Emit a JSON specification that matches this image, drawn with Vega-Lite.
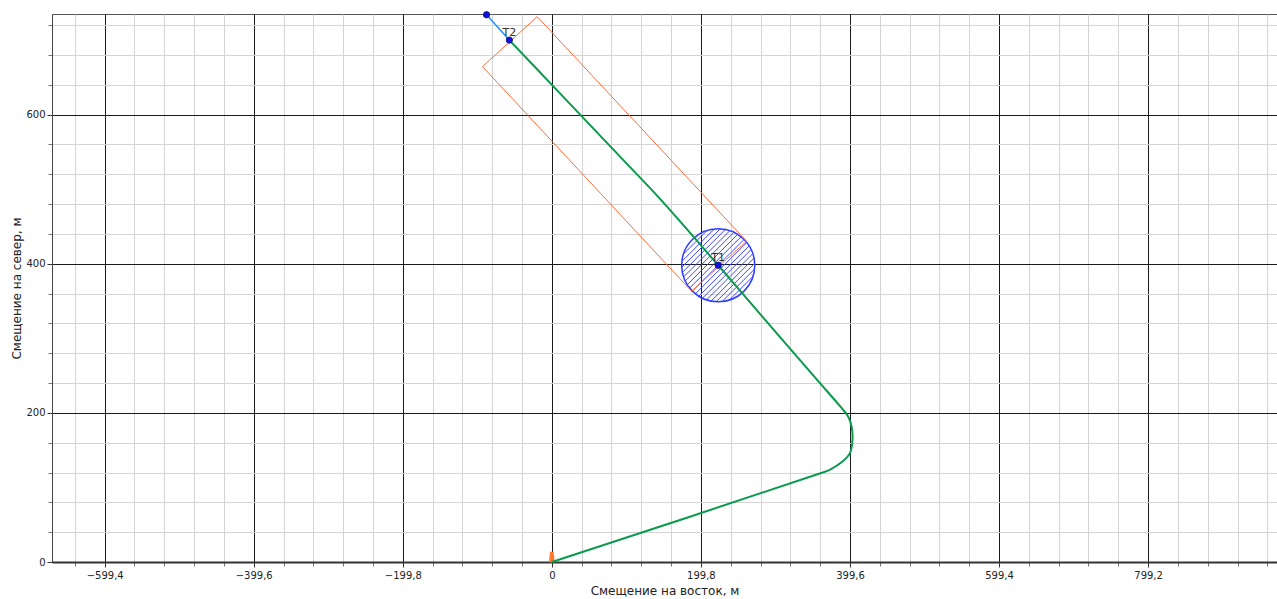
{
  "$schema": "https://vega.github.io/schema/vega-lite/v6.json",
  "width": 1225,
  "height": 548,
  "autosize": {"type": "none"},
  "padding": {"left": 52, "top": 14, "right": 0, "bottom": 37},
  "background": "white",
  "config": {
    "view": {"stroke": "#555555", "strokeWidth": 1},
    "font": "DejaVu Sans"
  },
  "datasets": {
    "track": [
      {"i": 0, "x": 0, "y": 0},
      {"i": 1, "x": 360, "y": 119},
      {"i": 2, "x": 373, "y": 124},
      {"i": 3, "x": 390, "y": 135},
      {"i": 4, "x": 399.5, "y": 146},
      {"i": 5, "x": 403, "y": 164},
      {"i": 6, "x": 401.7, "y": 182},
      {"i": 7, "x": 397, "y": 195.5},
      {"i": 8, "x": 388, "y": 207},
      {"i": 9, "x": 355, "y": 245},
      {"i": 10, "x": 283, "y": 328},
      {"i": 11, "x": 223, "y": 398},
      {"i": 12, "x": 145, "y": 487},
      {"i": 13, "x": 93, "y": 542},
      {"i": 14, "x": 2, "y": 638},
      {"i": 15, "x": -57, "y": 700}
    ],
    "blue": [
      {"i": 0, "x": -87.5, "y": 734},
      {"i": 1, "x": -70, "y": 714.5},
      {"i": 2, "x": -57, "y": 700}
    ],
    "rect": [
      {"i": 0, "x": -19.7, "y": 731.5},
      {"i": 1, "x": 261, "y": 430.3},
      {"i": 2, "x": 187.3, "y": 363.2},
      {"i": 3, "x": -92.9, "y": 664.4},
      {"i": 4, "x": -19.7, "y": 731.5}
    ],
    "hatch": [
      {"x": 188.35, "y": 363.35, "x2": 257.65, "y2": 432.65},
      {"x": 184.72, "y": 367.42, "x2": 253.58, "y2": 436.28},
      {"x": 192.42, "y": 359.72, "x2": 261.28, "y2": 428.58},
      {"x": 181.52, "y": 371.92, "x2": 249.08, "y2": 439.48},
      {"x": 196.92, "y": 356.52, "x2": 264.48, "y2": 424.08},
      {"x": 178.78, "y": 376.88, "x2": 244.12, "y2": 442.22},
      {"x": 201.88, "y": 353.78, "x2": 267.22, "y2": 419.12},
      {"x": 176.56, "y": 382.36, "x2": 238.64, "y2": 444.44},
      {"x": 207.36, "y": 351.56, "x2": 269.44, "y2": 413.64},
      {"x": 174.94, "y": 388.44, "x2": 232.56, "y2": 446.06},
      {"x": 213.44, "y": 349.94, "x2": 271.06, "y2": 407.56},
      {"x": 174.08, "y": 395.28, "x2": 225.72, "y2": 446.92},
      {"x": 220.28, "y": 349.08, "x2": 271.92, "y2": 400.72},
      {"x": 174.27, "y": 403.17, "x2": 217.83, "y2": 446.73},
      {"x": 228.17, "y": 349.27, "x2": 271.73, "y2": 392.83},
      {"x": 176.33, "y": 412.93, "x2": 208.07, "y2": 444.67},
      {"x": 237.93, "y": 351.33, "x2": 269.67, "y2": 383.07}
    ],
    "circle": [{"x": 223, "y": 398}],
    "pts": [
      {"x": -87.5, "y": 734, "name": ""},
      {"x": -57, "y": 700, "name": "Т2"},
      {"x": 223, "y": 398, "name": "Т1"}
    ],
    "origin": [{"x": 0, "y": 0}]
  },
  "resolve": {"axis": {"x": "independent", "y": "independent"}},
  "layer": [
    {
      "data": {"name": "origin"},
      "mark": {"type": "point", "opacity": 0},
      "encoding": {
        "x": {"field": "x", "type": "quantitative",
          "scale": {"domain": [-670, 972], "nice": false, "zero": false},
          "axis": {"orient": "bottom", "values": [-639.36, -559.44, -519.48, -479.52, -439.56, -359.64, -319.68, -279.72, -239.76, -159.84, -119.88, -79.92, -39.96, 39.96, 79.92, 119.88, 159.84, 239.76, 279.72, 319.68, 359.64, 439.56, 479.52, 519.48, 559.44, 639.36, 679.32, 719.28, 759.24, 839.16, 879.12, 919.08, 959.04],
            "grid": true, "gridColor": "#d4d4d4", "gridWidth": 1, "labels": false, "domain": false, "ticks": true, "tickSize": 4, "tickColor": "#777777", "title": null}},
        "y": {"field": "y", "type": "quantitative",
          "scale": {"domain": [0, 735], "nice": false, "zero": false},
          "axis": {"orient": "left", "values": [40, 80, 120, 160, 240, 280, 320, 360, 440, 480, 520, 560, 640, 680, 720],
            "grid": true, "gridColor": "#d4d4d4", "gridWidth": 1, "labels": false, "domain": false, "ticks": true, "tickSize": 4, "tickColor": "#777777", "title": null}}
      }
    },
    {
      "data": {"name": "origin"},
      "mark": {"type": "point", "opacity": 0},
      "encoding": {
        "x": {"field": "x", "type": "quantitative",
          "axis": {"orient": "bottom", "values": [-599.4, -399.6, -199.8, 0, 199.8, 399.6, 599.4, 799.2],
            "labelExpr": "datum.value == 0 ? '0' : replace(format(datum.value, '.1f'), '.', ',')",
            "grid": true, "gridColor": "#1a1a1a", "gridWidth": 1, "domain": true, "domainColor": "#333333", "domainWidth": 2,
            "ticks": true, "tickSize": 5, "tickColor": "#333333", "labelFontSize": 10, "labelColor": "#222222", "labelPadding": 3,
            "title": "Смещение на восток, м", "titleFontSize": 12, "titleFontWeight": "normal", "titleColor": "#222222", "titlePadding": 5}},
        "y": {"field": "y", "type": "quantitative",
          "axis": {"orient": "left", "values": [0, 200, 400, 600],
            "grid": true, "gridColor": "#1a1a1a", "gridWidth": 1, "domain": true, "domainColor": "#444444", "domainWidth": 1,
            "ticks": true, "tickSize": 5, "tickColor": "#333333", "labelFontSize": 10, "labelColor": "#222222", "labelPadding": 2,
            "title": "Смещение на север, м", "titleFontSize": 12, "titleFontWeight": "normal", "titleColor": "#222222", "titlePadding": 2}}
      }
    },
    {
      "data": {"name": "hatch"},
      "mark": {"type": "rule", "color": "#3a46ff", "strokeWidth": 1},
      "encoding": {
        "x": {"field": "x", "type": "quantitative", "axis": null},
        "y": {"field": "y", "type": "quantitative", "axis": null},
        "x2": {"field": "x2"},
        "y2": {"field": "y2"}
      }
    },
    {
      "data": {"name": "circle"},
      "mark": {"type": "point", "shape": "circle", "size": 5344, "filled": false, "stroke": "#2f3cff", "strokeWidth": 1.5, "opacity": 1},
      "encoding": {
        "x": {"field": "x", "type": "quantitative", "axis": null},
        "y": {"field": "y", "type": "quantitative", "axis": null}
      }
    },
    {
      "data": {"name": "rect"},
      "mark": {"type": "line", "color": "#ff6a3a", "strokeWidth": 1},
      "encoding": {
        "x": {"field": "x", "type": "quantitative", "axis": null},
        "y": {"field": "y", "type": "quantitative", "axis": null},
        "order": {"field": "i", "type": "quantitative"}
      }
    },
    {
      "data": {"name": "origin"},
      "mark": {"type": "point", "shape": "M-0.35,-1L0.35,-1L0.55,1L-0.55,1Z", "size": 110, "filled": true, "color": "#ff7a30", "opacity": 1, "yOffset": -5},
      "encoding": {
        "x": {"field": "x", "type": "quantitative", "axis": null},
        "y": {"field": "y", "type": "quantitative", "axis": null}
      }
    },
    {
      "data": {"name": "track"},
      "mark": {"type": "line", "color": "#0a9a4c", "strokeWidth": 2, "interpolate": "catmull-rom"},
      "encoding": {
        "x": {"field": "x", "type": "quantitative", "axis": null},
        "y": {"field": "y", "type": "quantitative", "axis": null},
        "order": {"field": "i", "type": "quantitative"}
      }
    },
    {
      "data": {"name": "blue"},
      "mark": {"type": "line", "color": "#1e90ff", "strokeWidth": 1.5},
      "encoding": {
        "x": {"field": "x", "type": "quantitative", "axis": null},
        "y": {"field": "y", "type": "quantitative", "axis": null},
        "order": {"field": "i", "type": "quantitative"}
      }
    },
    {
      "data": {"name": "pts"},
      "mark": {"type": "point", "shape": "circle", "size": 40, "filled": true, "color": "#1010e0", "stroke": "#101060", "strokeWidth": 0.8, "opacity": 1},
      "encoding": {
        "x": {"field": "x", "type": "quantitative", "axis": null},
        "y": {"field": "y", "type": "quantitative", "axis": null}
      }
    },
    {
      "data": {"name": "pts"},
      "mark": {"type": "text", "fontSize": 11, "color": "#333333", "dy": -7, "align": "center"},
      "encoding": {
        "x": {"field": "x", "type": "quantitative", "axis": null},
        "y": {"field": "y", "type": "quantitative", "axis": null},
        "text": {"field": "name"}
      }
    }
  ]
}
